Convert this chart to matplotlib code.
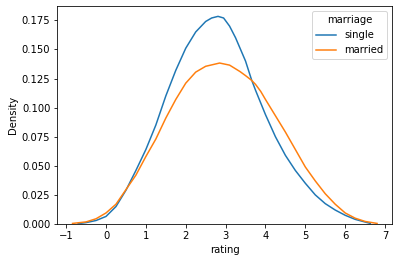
import matplotlib
matplotlib.use("Agg")
import matplotlib.pyplot as plt

# density curves (kde of rating by marriage)
single_x = [-0.7, -0.5, -0.25, 0, 0.25, 0.5, 0.75, 1, 1.25, 1.5, 1.75, 2, 2.25, 2.5, 2.65,
            2.81, 2.95, 3.1, 3.25, 3.4, 3.5, 3.65, 3.75, 4, 4.25, 4.5, 4.75, 5, 5.25, 5.5,
            5.75, 6, 6.25, 6.5, 6.63]
single_y = [0.0003, 0.0012, 0.003, 0.0065, 0.015, 0.029, 0.046, 0.064, 0.085, 0.110, 0.132,
            0.151, 0.165, 0.174, 0.177, 0.1784, 0.177, 0.170, 0.160, 0.148, 0.140, 0.124,
            0.115, 0.094, 0.075, 0.059, 0.046, 0.035, 0.025, 0.0175, 0.012, 0.0075, 0.004,
            0.0017, 0.0005]

married_x = [-0.84, -0.5, -0.25, 0, 0.25, 0.46, 0.75, 1, 1.25, 1.5, 1.75, 2, 2.25, 2.5, 2.85,
             3.1, 3.36, 3.5, 3.65, 3.75, 3.88, 4, 4.25, 4.5, 4.75, 5, 5.25, 5.5, 5.75, 6,
             6.25, 6.5, 6.8]
married_y = [0.0005, 0.0018, 0.0045, 0.0095, 0.017, 0.0275, 0.042, 0.058, 0.073, 0.091, 0.107,
             0.121, 0.1305, 0.1355, 0.1383, 0.1365, 0.131, 0.1275, 0.1235, 0.120, 0.114,
             0.107, 0.093, 0.079, 0.064, 0.049, 0.037, 0.026, 0.017, 0.0095, 0.005, 0.0022,
             0.0005]

fig = plt.figure(figsize=(398 / 72, 262 / 72), dpi=72)
ax = fig.add_axes([57.3 / 398, 1 - 224 / 262, (392.3 - 57.3) / 398, (224 - 6) / 262])

ax.plot(single_x, single_y, color="#1f77b4", label="single", lw=1.5)
ax.plot(married_x, married_y, color="#ff7f0e", label="married", lw=1.5)

ax.set_ylim(0, None)
ax.set_xlabel("rating")
ax.set_ylabel("Density")
ax.legend(title="marriage", loc="upper right")

fig.savefig("out.png", dpi=72)
